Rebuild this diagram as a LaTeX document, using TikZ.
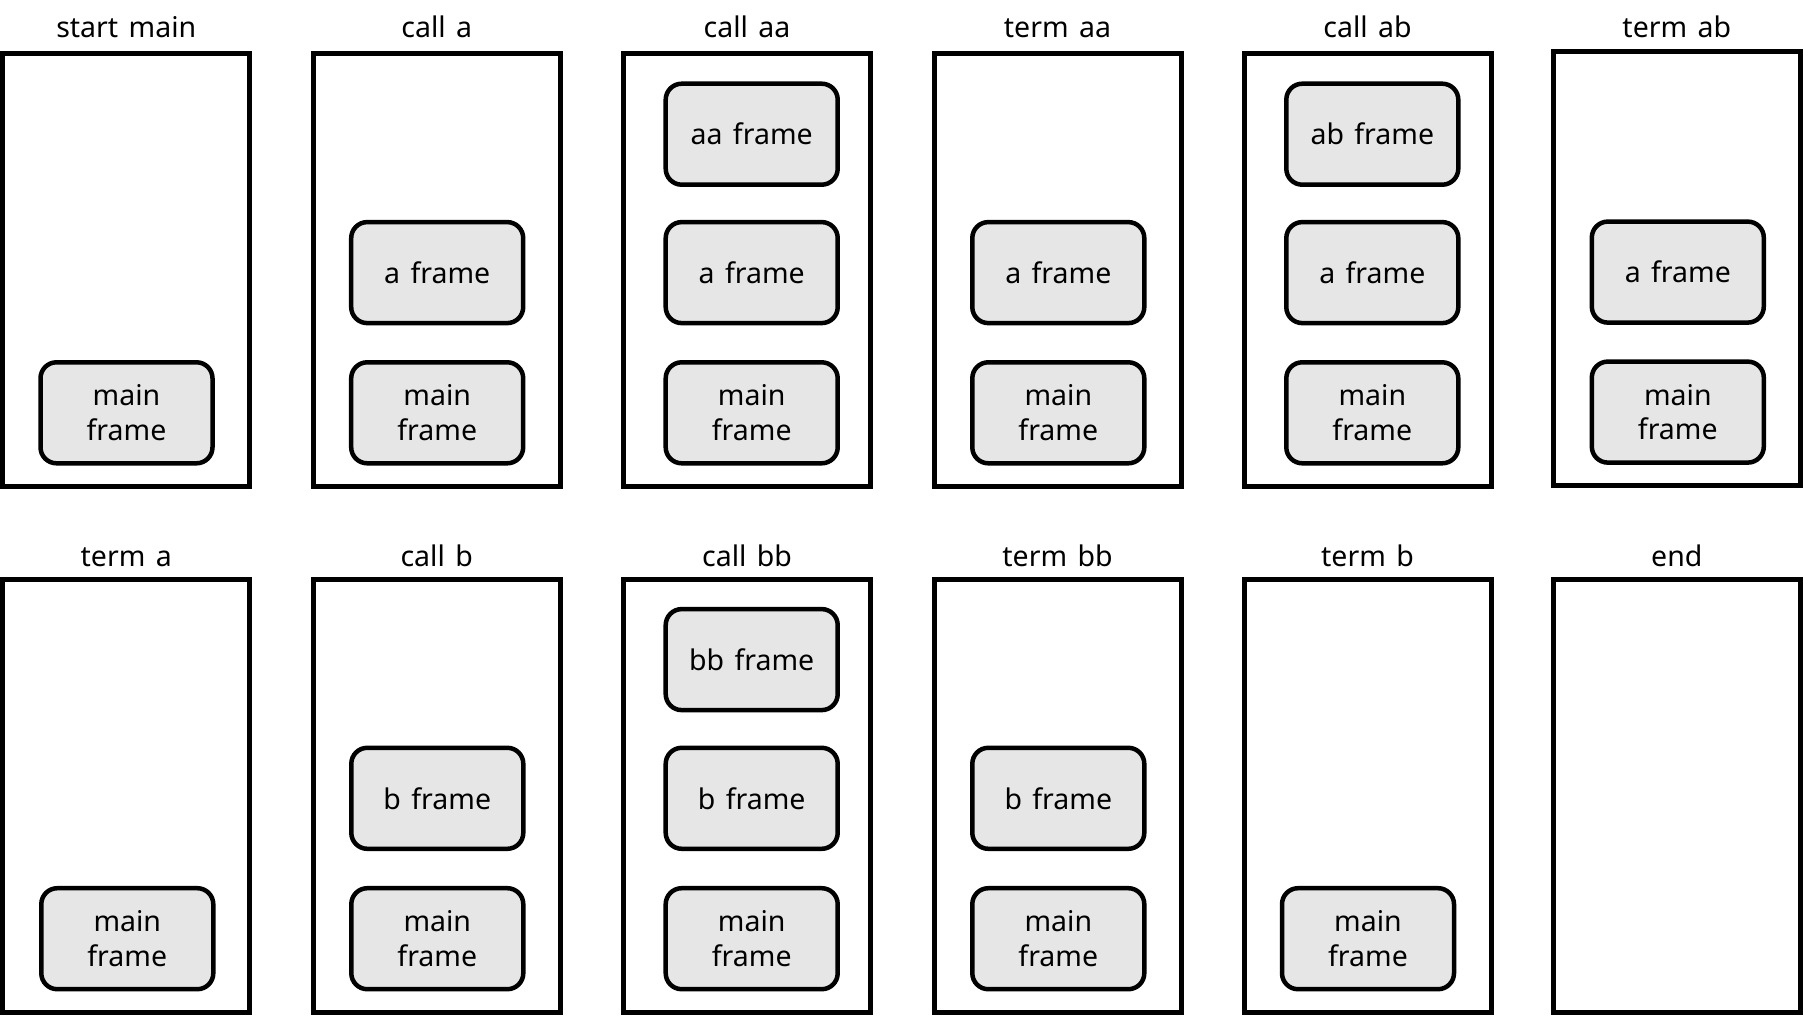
\documentclass[tikz,border=0pt]{standalone}
\usepackage{fontspec}
\setmainfont{Noto Sans}[WordSpace=1.4]
\definecolor{framegray}{HTML}{E6E6E6}
\begin{document}
\begin{tikzpicture}[x=1pt,y=-1pt,
  every node/.style={font=\fontsize{28.5}{34.7}\selectfont},
  stackbox/.style={draw=black, line width=5pt, fill=white, minimum width=247pt, minimum height=433.6pt, inner sep=0pt},
  framebox/.style={draw=black, line width=4.5pt, fill=framegray, rounded corners=16pt, minimum width=172pt, minimum height=101pt, inner sep=0pt, align=center},
  titletext/.style={anchor=base, inner sep=0pt}
]
\useasboundingbox (0,0) rectangle (1804,1016);

% ---------- top row ----------
\node[stackbox] (s1) at (126.25,269.9) {};
\node[stackbox] (s2) at (436.7,269.9) {};
\node[stackbox] (s3) at (747,269.9) {};
\node[stackbox] (s4) at (1057.5,269.9) {};
\node[stackbox] (s5) at (1367.5,269.9) {};
\node[stackbox] (s6) at (1676.8,268.5) {};

\node[titletext] (t1) at (126.25,37.8) {start main};
\node[titletext] (t2) at (436.7,37.8) {call a};
\node[titletext] (t3) at (747,37.8) {call aa};
\node[titletext] (t4) at (1057.5,37.8) {term aa};
\node[titletext] (t5) at (1367.5,37.8) {call ab};
\node[titletext] (t6) at (1676.8,37.8) {term ab};

\node[framebox] (f1m) at (126.5,412.8) {main\\frame};

\node[framebox] (f2a) at (437.2,272.6) {a frame};
\node[framebox] (f2m) at (437.2,412.8) {main\\frame};

\node[framebox] (f3aa) at (751.7,134.2) {aa frame};
\node[framebox] (f3a) at (751.7,272.6) {a frame};
\node[framebox] (f3m) at (751.7,412.8) {main\\frame};

\node[framebox] (f4a) at (1058.3,272.6) {a frame};
\node[framebox] (f4m) at (1058.3,412.8) {main\\frame};

\node[framebox] (f5ab) at (1372.3,134.2) {ab frame};
\node[framebox] (f5a) at (1372.3,272.6) {a frame};
\node[framebox] (f5m) at (1372.3,412.8) {main\\frame};

\node[framebox] (f6a) at (1677.8,272.1) {a frame};
\node[framebox] (f6m) at (1677.8,412.1) {main\\frame};

% ---------- bottom row ----------
\node[stackbox] (s7) at (126.25,796) {};
\node[stackbox] (s8) at (436.7,796) {};
\node[stackbox] (s9) at (747,796) {};
\node[stackbox] (s10) at (1057.5,796) {};
\node[stackbox] (s11) at (1367.5,796) {};
\node[stackbox] (s12) at (1676.8,796) {};

\node[titletext] (t7) at (126.25,566.7) {term a};
\node[titletext] (t8) at (436.7,566.7) {call b};
\node[titletext] (t9) at (747,566.7) {call bb};
\node[titletext] (t10) at (1057.5,566.7) {term bb};
\node[titletext] (t11) at (1367.5,566.7) {term b};
\node[titletext] (t12) at (1676.8,566.7) {end};

\node[framebox] (f7m) at (127.3,938.7) {main\\frame};

\node[framebox] (f8b) at (437.3,798.3) {b frame};
\node[framebox] (f8m) at (437.3,938.7) {main\\frame};

\node[framebox] (f9bb) at (751.7,659.6) {bb frame};
\node[framebox] (f9b) at (751.7,798.3) {b frame};
\node[framebox] (f9m) at (751.7,938.7) {main\\frame};

\node[framebox] (f10b) at (1058.3,798.3) {b frame};
\node[framebox] (f10m) at (1058.3,938.7) {main\\frame};

\node[framebox] (f11m) at (1368,938.7) {main\\frame};
\end{tikzpicture}
\end{document}
